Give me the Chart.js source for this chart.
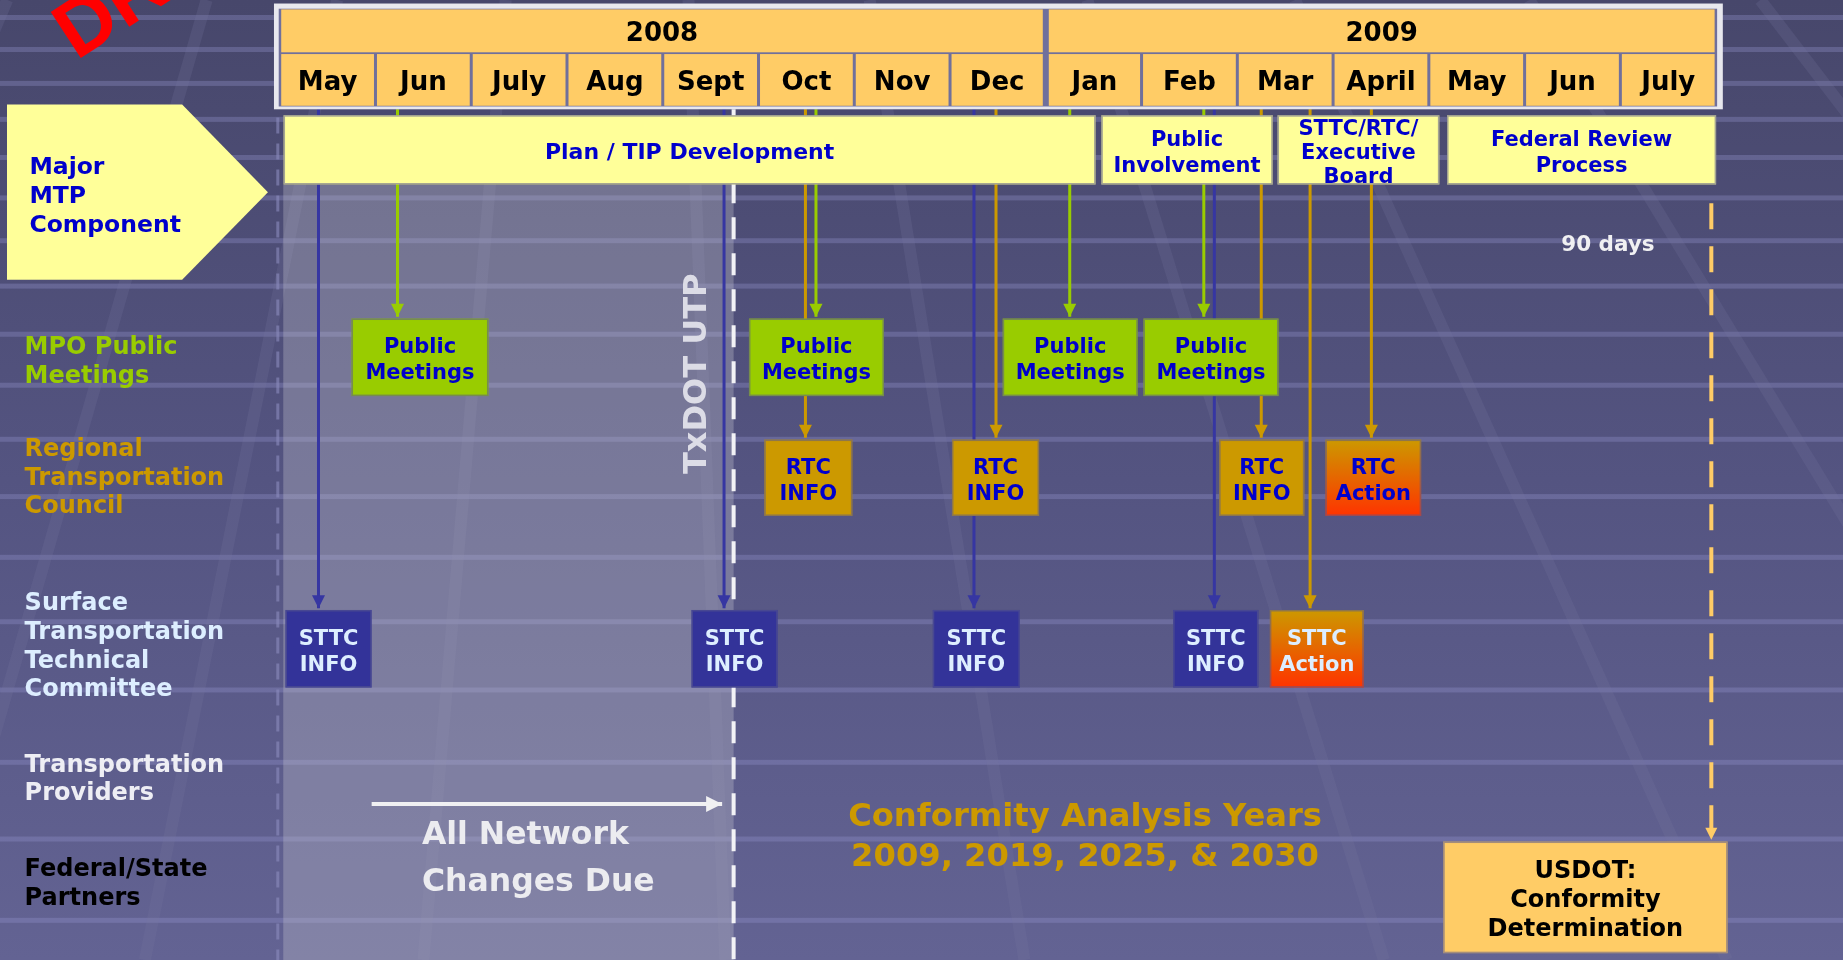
<!DOCTYPE html>
<html>
<head>
<meta charset="utf-8">
<title>MTP Development Timeline</title>
<script src="https://cdn.jsdelivr.net/npm/chart.js@4.4.1/dist/chart.umd.min.js"></script>
<style>
  html, body { margin: 0; padding: 0; background: #4f4f78; }
  #wrap { width: 1843px; height: 960px; position: relative; }
</style>
</head>
<body>
<div id="wrap"><canvas id="chart"></canvas></div>
<script>
// x runs in months (0 = start of May 2008), y runs down in row units

var months = ['May', 'Jun', 'July', 'Aug', 'Sept', 'Oct', 'Nov', 'Dec', 'Jan', 'Feb', 'Mar', 'April', 'May', 'Jun', 'July'];
var years = ['2008', '2009'];
var yearFrom = [0, 8];
var yearTo = [8, 15];

var laneNames = ['Major\nMTP\nComponent', 'MPO Public\nMeetings', 'Regional\nTransportation\nCouncil',
  'Surface\nTransportation\nTechnical\nCommittee', 'Transportation\nProviders', 'Federal/State\nPartners'];

var planLabels = ['Plan / TIP Development', 'Public\nInvolvement', 'STTC/RTC/\nExecutive\nBoard', 'Federal Review\nProcess'];
var planFrom = [0.04, 8.58, 10.42, 12.19];
var planTo = [8.52, 10.37, 12.11, 15.0];

var meetLabels = ['Public\nMeetings', 'Public\nMeetings', 'Public\nMeetings', 'Public\nMeetings'];
var meetFrom = [0.75, 4.90, 7.55, 9.02];
var meetTo = [2.18, 6.31, 8.96, 10.43];

var rtcLabels = ['RTC\nINFO', 'RTC\nINFO', 'RTC\nINFO', 'RTC\nAction'];
var rtcFrom = [5.06, 7.02, 9.81, 10.92];
var rtcTo = [5.98, 7.93, 10.70, 11.92];

var sttcLabels = ['STTC\nINFO', 'STTC\nINFO', 'STTC\nINFO', 'STTC\nINFO', 'STTC\nAction'];
var sttcFrom = [0.06, 4.30, 6.82, 9.33, 10.34];
var sttcTo = [0.96, 5.20, 7.73, 10.22, 11.32];

// connectors dropping from the component row to the committee boxes
var linkMonth = [0.405, 4.64, 7.25, 9.76, 1.23, 5.60, 8.25, 9.65, 5.49, 7.48, 10.25, 10.76, 11.40];
var linkTarget = ['sttc', 'sttc', 'sttc', 'sttc', 'meet', 'meet', 'meet', 'meet', 'rtc', 'rtc', 'rtc', 'sttc', 'rtc'];
var linkGroup = ['blue', 'blue', 'blue', 'blue', 'green', 'green', 'green', 'green',
  'orange', 'orange', 'orange', 'orange', 'orange'];

var utpMonth = 4.74;          // TxDOT UTP cut-off
var networkFrom = 0.96;       // "All Network Changes Due" window
var networkTo = 4.62;
var reviewMonth = 14.95;      // 90 day federal review
var usdotFrom = 12.15;
var usdotTo = 15.12;

// ---- layout / style ----
var FONT = '"DejaVu Sans", Verdana, sans-serif';
var X_MIN = -2.921, X_MAX = 16.325, Y_MAX = 8.168;
var NUDGE = 3.5;   // DejaVu sits a little high with baseline 'middle'
var HEADER = { frame: [0.03, 0.93], year: [0.08, 0.445], month: [0.46, 0.90] };
var ROWS = { plan: [0.98, 1.57], meet: [2.71, 3.37], rtc: [3.74, 4.39], sttc: [5.19, 5.85], usdot: [7.16, 8.11] };
var LANE_Y = [1.645, 3.055, 4.04, 5.475, 6.605, 7.495];
var LANE_COLORS = ['#0000cc', '#99cc00', '#cc9900', '#ddeeff', '#eeeef4', '#000000'];
var LINK_COLORS = { blue: '#3636a2', green: '#99cc00', orange: '#cc9900' };
var ACTION_FILL = ['#cc9900', '#ff3300'];

function font(size, weight) {
  return (weight || 'bold') + ' ' + size + 'px ' + FONT;
}

function drawLines(ctx, text, x, yMid, lh, align) {
  var lines = text.split('\n');
  ctx.textAlign = align || 'center';
  ctx.textBaseline = 'middle';
  var top = yMid - (lines.length - 1) * lh / 2 + NUDGE;
  lines.forEach(function(line, i) {
    ctx.fillText(line, x, top + i * lh);
  });
}

function drawBox(chart, from, to, row, fill, label, textColor, size, lh) {
  var ctx = chart.ctx, xs = chart.scales.x, ys = chart.scales.y;
  var x0 = xs.getPixelForValue(from), x1 = xs.getPixelForValue(to);
  var y0 = ys.getPixelForValue(row[0]), y1 = ys.getPixelForValue(row[1]);
  var paint = fill;
  if (Array.isArray(fill)) {
    paint = ctx.createLinearGradient(0, y0, 0, y1);
    paint.addColorStop(0, fill[0]);
    paint.addColorStop(1, fill[1]);
  }
  ctx.fillStyle = paint;
  ctx.fillRect(x0, y0, x1 - x0, y1 - y0);
  ctx.strokeStyle = 'rgba(90,90,140,0.55)';
  ctx.lineWidth = 1.5;
  ctx.strokeRect(x0 + 0.75, y0 + 0.75, x1 - x0 - 1.5, y1 - y0 - 1.5);
  ctx.fillStyle = textColor;
  ctx.font = font(size);
  drawLines(ctx, label, (x0 + x1) / 2, (y0 + y1) / 2, lh);
}

function drawBackground(chart) {
  var ctx = chart.ctx, w = chart.width, h = chart.height;
  var g = ctx.createLinearGradient(0, 0, 0, h);
  g.addColorStop(0, '#47476b');
  g.addColorStop(0.5, '#545481');
  g.addColorStop(1, '#636393');
  ctx.save();
  ctx.fillStyle = g;
  ctx.fillRect(0, 0, w, h);

  // perspective floor of the slide template
  ctx.fillStyle = 'rgba(150,150,205,0.33)';
  var y = 15, step = 32;
  while (y < h) {
    ctx.fillRect(0, y, w, 5);
    y += step;
    step *= 1.06;
  }
  ctx.strokeStyle = 'rgba(120,120,160,0.22)';
  ctx.lineWidth = 12;
  var vx = 632, vy = -1474;
  [-120, 120, 277, 480, 700, 918, 1180, 1430, 1712, 1990].forEach(function(x) {
    var dx = (x - vx) / (300 - vy);
    ctx.beginPath();
    ctx.moveTo(x + dx * (0 - 300), 0);
    ctx.lineTo(x + dx * (h - 300), h);
    ctx.stroke();
  });

  // DRAFT watermark, mostly off the slide
  var xs = chart.scales.x, ys = chart.scales.y;
  ctx.translate(xs.getPixelForValue(-2.125), ys.getPixelForValue(0.52));
  ctx.rotate(-33 * Math.PI / 180);
  ctx.fillStyle = '#ff0000';
  ctx.font = 'bold 80px "Liberation Sans", Arial, sans-serif';
  ctx.textAlign = 'left';
  ctx.textBaseline = 'alphabetic';
  ctx.fillText('DRAFT', 0, 0);
  ctx.restore();
}

function drawShade(chart) {
  var ctx = chart.ctx, xs = chart.scales.x, ys = chart.scales.y;
  var x0 = xs.getPixelForValue(0.037), x1 = xs.getPixelForValue(utpMonth);
  var y0 = ys.getPixelForValue(ROWS.plan[1]), y1 = ys.getPixelForValue(Y_MAX);
  ctx.save();
  ctx.fillStyle = 'rgba(200,200,208,0.32)';
  ctx.fillRect(x0, y0, x1 - x0, y1 - y0);
  ctx.restore();
}

function drawHeads(chart) {
  var ctx = chart.ctx;
  ctx.save();
  chart.data.datasets.forEach(function(ds, i) {
    if (!ds.head) return;
    var pts = chart.getDatasetMeta(i).data;
    var a = pts[0], b = pts[pts.length - 1];
    var ang = Math.atan2(b.y - a.y, b.x - a.x);
    var len = ds.head, half = ds.head * 0.5;
    ctx.save();
    ctx.translate(b.x, b.y);
    ctx.rotate(ang);
    ctx.fillStyle = ds.borderColor;
    ctx.beginPath();
    ctx.moveTo(0, 0);
    ctx.lineTo(-len, -half);
    ctx.lineTo(-len, half);
    ctx.closePath();
    ctx.fill();
    ctx.restore();
  });
  ctx.restore();
}

function drawHeader(chart) {
  var ctx = chart.ctx, xs = chart.scales.x, ys = chart.scales.y;
  ctx.save();
  var fx0 = xs.getPixelForValue(-0.06), fx1 = xs.getPixelForValue(15.07);
  var fy0 = ys.getPixelForValue(HEADER.frame[0]), fy1 = ys.getPixelForValue(HEADER.frame[1]);
  ctx.fillStyle = '#e8e8ee';
  ctx.fillRect(fx0, fy0, fx1 - fx0, fy1 - fy0);
  var ix0 = xs.getPixelForValue(0), ix1 = xs.getPixelForValue(15);
  var iy0 = ys.getPixelForValue(HEADER.year[0] - 0.006), iy1 = ys.getPixelForValue(HEADER.month[1] + 0.006);
  ctx.fillStyle = '#70709c';
  ctx.fillRect(ix0 - 1, iy0, ix1 - ix0 + 2, iy1 - iy0);

  function cell(from, to, row, text) {
    var x0 = xs.getPixelForValue(from) + 1.5, x1 = xs.getPixelForValue(to) - 1.5;
    if (from === 8) x0 += 1.5;
    if (to === 8) x1 -= 1.5;
    var y0 = ys.getPixelForValue(row[0]), y1 = ys.getPixelForValue(row[1]);
    ctx.fillStyle = '#ffcc66';
    ctx.fillRect(x0, y0, x1 - x0, y1 - y0);
    ctx.fillStyle = '#000000';
    ctx.font = font(26);
    drawLines(ctx, text, (x0 + x1) / 2, (y0 + y1) / 2, 30);
  }
  years.forEach(function(y, i) { cell(yearFrom[i], yearTo[i], HEADER.year, y); });
  months.forEach(function(m, i) { cell(i, i + 1, HEADER.month, m); });
  ctx.restore();
}

function drawLanes(chart) {
  var ctx = chart.ctx, xs = chart.scales.x, ys = chart.scales.y;
  ctx.save();
  // arrow-shaped tag for the component row
  ctx.fillStyle = '#ffff99';
  ctx.beginPath();
  ctx.moveTo(xs.getPixelForValue(-2.848), ys.getPixelForValue(0.89));
  ctx.lineTo(xs.getPixelForValue(-1.019), ys.getPixelForValue(0.89));
  ctx.lineTo(xs.getPixelForValue(-0.123), ys.getPixelForValue(1.635));
  ctx.lineTo(xs.getPixelForValue(-1.019), ys.getPixelForValue(2.38));
  ctx.lineTo(xs.getPixelForValue(-2.848), ys.getPixelForValue(2.38));
  ctx.closePath();
  ctx.fill();

  laneNames.forEach(function(name, i) {
    ctx.fillStyle = LANE_COLORS[i];
    ctx.font = font(i === 0 ? 23.5 : 24);
    var x = xs.getPixelForValue(i === 0 ? -2.614 : -2.664);
    drawLines(ctx, name, x, ys.getPixelForValue(LANE_Y[i]), 28.8, 'left');
  });
  ctx.restore();
}

function drawNotes(chart) {
  var ctx = chart.ctx, xs = chart.scales.x, ys = chart.scales.y;
  ctx.save();
  ctx.translate(xs.getPixelForValue(4.37), ys.getPixelForValue(3.18));
  ctx.rotate(-Math.PI / 2);
  ctx.fillStyle = '#dcdce6';
  ctx.font = font(32);
  ctx.textAlign = 'center';
  ctx.textBaseline = 'middle';
  ctx.fillText('TxDOT UTP', 0, 0);
  ctx.restore();

  ctx.save();
  ctx.fillStyle = '#f0f0f2';
  ctx.font = font(21.5);
  drawLines(ctx, '90 days', xs.getPixelForValue(13.87), ys.getPixelForValue(2.06), 24);
  ctx.fillStyle = '#ececf0';
  ctx.font = font(31.5);
  drawLines(ctx, 'All Network\nChanges Due', xs.getPixelForValue(1.485), ys.getPixelForValue(7.28), 47, 'left');
  ctx.fillStyle = '#cc9900';
  ctx.font = font(32.2);
  drawLines(ctx, 'Conformity Analysis Years\n2009, 2019, 2025, & 2030', xs.getPixelForValue(8.41),
    ys.getPixelForValue(7.10), 40);
  ctx.restore();
}

function drawBoxes(chart) {
  var ctx = chart.ctx;
  ctx.save();
  planLabels.forEach(function(l, i) {
    drawBox(chart, planFrom[i], planTo[i], ROWS.plan, '#ffff99', l, '#0000cc', i === 0 ? 22 : 21, i === 2 ? 24 : 26);
  });
  meetLabels.forEach(function(l, i) {
    drawBox(chart, meetFrom[i], meetTo[i], ROWS.meet, '#99cc00', l, '#0000cc', 21, 26);
  });
  rtcLabels.forEach(function(l, i) {
    var action = l.indexOf('Action') >= 0;
    drawBox(chart, rtcFrom[i], rtcTo[i], ROWS.rtc, action ? ACTION_FILL : '#cc9900', l, '#0000cc', 21, 26);
  });
  sttcLabels.forEach(function(l, i) {
    var action = l.indexOf('Action') >= 0;
    drawBox(chart, sttcFrom[i], sttcTo[i], ROWS.sttc, action ? ACTION_FILL : '#333399', l, '#ddeeff', 21, 26);
  });
  drawBox(chart, usdotFrom, usdotTo, ROWS.usdot, '#ffcc66', 'USDOT:\nConformity\nDetermination', '#000000', 24, 29);
  ctx.restore();
}

var timelineArt = {
  id: 'timelineArt',
  beforeDraw: function(chart) { drawBackground(chart); },
  beforeDatasetsDraw: function(chart) { drawShade(chart); },
  afterDatasetsDraw: function(chart) {
    drawHeads(chart);
    drawBoxes(chart);
    drawLanes(chart);
    drawNotes(chart);
    drawHeader(chart);
  }
};

// ---- datasets ----
var datasets = linkMonth.map(function(m, i) {
  return {
    data: [{ x: m, y: HEADER.frame[1] }, { x: m, y: ROWS[linkTarget[i]][0] - 0.015 }],
    borderColor: LINK_COLORS[linkGroup[i]],
    borderWidth: 3,
    head: 13
  };
});
datasets.push({
  data: [{ x: -0.02, y: 1.0 }, { x: -0.02, y: Y_MAX }],
  borderColor: 'rgba(140,140,190,0.6)', borderWidth: 3, borderDash: [16, 10]
});
datasets.push({
  data: [{ x: utpMonth, y: HEADER.frame[1] }, { x: utpMonth, y: Y_MAX }],
  borderColor: '#f2f2f6', borderWidth: 4, borderDash: [22, 14]
});
datasets.push({
  data: [{ x: reviewMonth, y: 1.73 }, { x: reviewMonth, y: ROWS.usdot[0] - 0.015 }],
  borderColor: '#ffcc66', borderWidth: 4, borderDash: [26, 17], head: 12
});
datasets.push({
  data: [{ x: networkFrom, y: 6.84 }, { x: networkTo, y: 6.84 }],
  borderColor: '#f0f0f2', borderWidth: 4, head: 16
});
datasets.forEach(function(ds) {
  ds.showLine = true;
  ds.pointRadius = 0;
  ds.fill = false;
});

new Chart(document.getElementById('chart'), {
  type: 'scatter',
  data: { datasets: datasets },
  options: {
    responsive: true,
    maintainAspectRatio: false,
    animation: false,
    events: [],
    layout: { padding: 0 },
    plugins: { legend: { display: false }, tooltip: { enabled: false } },
    scales: {
      x: { type: 'linear', min: X_MIN, max: X_MAX, display: false },
      y: { type: 'linear', min: 0, max: Y_MAX, reverse: true, display: false }
    }
  },
  plugins: [timelineArt]
});
</script>
</body>
</html>
